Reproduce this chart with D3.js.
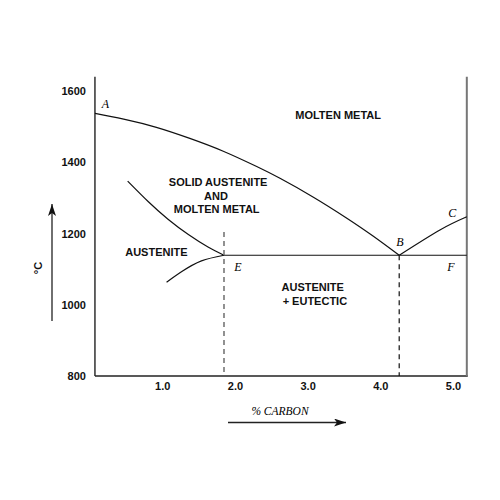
<!DOCTYPE html>
<html>
<head>
<meta charset="utf-8">
<script src="https://cdn.jsdelivr.net/npm/d3@7"></script>
<style>
  body { margin: 0; background: #fff; }
  .lbl { font-family: "Liberation Sans", Arial, sans-serif; font-weight: bold; font-size: 11px; fill: #111; }
  .pt { font-family: "Liberation Serif", "Times New Roman", serif; font-style: italic; font-size: 12px; fill: #000; }
  .tick text { font-family: "Liberation Sans", Arial, sans-serif; font-weight: bold; font-size: 11px; fill: #111; }
</style>
</head>
<body>
<script>
// liquidus A -> B
var abCarbon = [0.075, 0.47, 0.92, 1.38, 1.84, 2.30, 2.62, 3.08, 3.54, 3.90, 4.26];
var abTemp   = [1537, 1521, 1498, 1467, 1431, 1388, 1355, 1302, 1243, 1193, 1139];
// liquidus B -> C
var bcCarbon = [4.26, 4.82, 5.19];
var bcTemp   = [1139, 1210, 1247];
// solidus (upper curve into E)
var solCarbon = [0.525, 0.81, 1.08, 1.36, 1.63, 1.85];
var solTemp   = [1347, 1289, 1240, 1197, 1162, 1139];
// solvus (lower curve into E)
var lowCarbon = [1.06, 1.27, 1.54, 1.85];
var lowTemp   = [1063, 1093, 1123, 1139];
// eutectic line E -> F
var eutCarbon = [1.85, 5.19];
var eutTemp = 1139;
// dashed verticals
var dashE = {c: 1.85, top: 1204};
var dashB = {c: 4.26, top: 1139};

var xTicks = [1, 2, 3, 4, 5];
var yTicks = [800, 1000, 1200, 1400, 1600];

var points = ["A", "B", "C", "E", "F"];
var pointC = [0.22, 4.27, 4.99, 2.04, 4.97];
var pointT = [1563, 1177, 1257, 1107, 1107];

var regions = ["MOLTEN METAL", "SOLID AUSTENITE", "AND", "MOLTEN METAL", "AUSTENITE", "AUSTENITE", "+ EUTECTIC"];
var regionC = [3.42, 1.77, 1.74, 1.75, 0.92, 3.07, 3.10];
var regionT = [1533, 1343, 1306, 1268, 1147, 1050, 1010];

var xMin = 0.075, xMax = 5.19, yMin = 800, yMax = 1640;

var x = d3.scaleLinear().domain([0, 5]).range([89.5, 453]);
var y = d3.scaleLinear().domain([800, 1600]).range([376, 91]);

var svg = d3.select("body").append("svg")
    .attr("width", 500)
    .attr("height", 500);

var defs = svg.append("defs");
defs.append("marker")
    .attr("id", "arr")
    .attr("viewBox", "0 0 12 8")
    .attr("refX", 12).attr("refY", 4)
    .attr("markerWidth", 12).attr("markerHeight", 8)
    .attr("markerUnits", "userSpaceOnUse")
    .attr("orient", "auto")
  .append("path")
    .attr("d", "M0,0 L12,4 L0,8 L3,4 Z")
    .attr("fill", "#111");

// axes (labels only, lines drawn separately)
var xAxis = d3.axisBottom(x).tickValues(xTicks).tickFormat(d3.format(".1f")).tickSize(0).tickPadding(6);
var yAxis = d3.axisLeft(y).tickValues(yTicks).tickFormat(d3.format("d")).tickSize(0).tickPadding(9);

svg.append("g")
    .attr("transform", "translate(0," + y(yMin) + ")")
    .call(xAxis)
    .call(function(g) { g.select(".domain").remove(); });

svg.append("g")
    .attr("transform", "translate(" + x(xMin) + ",0)")
    .call(yAxis)
    .call(function(g) { g.select(".domain").remove(); });

// frame
svg.append("line")
    .attr("x1", x(xMin)).attr("y1", y(yMax))
    .attr("x2", x(xMin)).attr("y2", y(yMin))
    .style("stroke", "#111").style("stroke-width", 1.3);
svg.append("line")
    .attr("x1", x(xMin)).attr("y1", y(yMin))
    .attr("x2", x(xMax) + 1).attr("y2", y(yMin))
    .style("stroke", "#222").style("stroke-width", 1.3);
svg.append("line")
    .attr("x1", x(xMax)).attr("y1", y(yMax))
    .attr("x2", x(xMax)).attr("y2", y(yMin))
    .style("stroke", "#777").style("stroke-width", 2);

function curve(cs, ts) {
  var line = d3.line()
      .x(function(d) { return x(d[0]); })
      .y(function(d) { return y(d[1]); })
      .curve(d3.curveNatural);
  svg.append("path")
      .attr("d", line(d3.zip(cs, ts)))
      .attr("fill", "none")
      .style("stroke", "#111")
      .style("stroke-width", 1.2);
}

curve(abCarbon, abTemp);
curve(bcCarbon, bcTemp);
curve(solCarbon, solTemp);
curve(lowCarbon, lowTemp);

svg.append("line")
    .attr("x1", x(eutCarbon[0])).attr("y1", y(eutTemp))
    .attr("x2", x(eutCarbon[1])).attr("y2", y(eutTemp))
    .style("stroke", "#111").style("stroke-width", 1.2);

svg.append("line")
    .attr("x1", x(dashE.c)).attr("y1", y(dashE.top))
    .attr("x2", x(dashE.c)).attr("y2", y(yMin))
    .style("stroke", "#777").style("stroke-width", 1.6)
    .style("stroke-dasharray", "5,4");

svg.append("line")
    .attr("x1", x(dashB.c)).attr("y1", y(dashB.top))
    .attr("x2", x(dashB.c)).attr("y2", y(yMin))
    .style("stroke", "#111").style("stroke-width", 1.2)
    .style("stroke-dasharray", "5,4");

// point letters
svg.selectAll(".pt")
    .data(points)
    .enter().append("text")
    .attr("class", "pt")
    .attr("x", function(d, i) { return x(pointC[i]); })
    .attr("y", function(d, i) { return y(pointT[i]); })
    .attr("dy", "0.35em")
    .attr("text-anchor", "middle")
    .text(function(d) { return d; });

// region labels
svg.selectAll(".reg")
    .data(regions)
    .enter().append("text")
    .attr("class", "lbl reg")
    .attr("x", function(d, i) { return x(regionC[i]); })
    .attr("y", function(d, i) { return y(regionT[i]); })
    .attr("dy", "0.35em")
    .attr("text-anchor", "middle")
    .text(function(d) { return d; });

// temperature arrow + label
svg.append("line")
    .attr("x1", 52).attr("y1", 321)
    .attr("x2", 52).attr("y2", 204)
    .style("stroke", "#222").style("stroke-width", 1.3)
    .attr("marker-end", "url(#arr)");
svg.append("text")
    .attr("class", "lbl")
    .attr("transform", "translate(38,268) rotate(-90)")
    .attr("dy", "0.35em")
    .attr("text-anchor", "middle")
    .text("°C");

// carbon arrow + label
svg.append("line")
    .attr("x1", 228).attr("y1", 422.5)
    .attr("x2", 346).attr("y2", 422.5)
    .style("stroke", "#222").style("stroke-width", 1.3)
    .attr("marker-end", "url(#arr)");
svg.append("text")
    .attr("class", "pt")
    .attr("x", 280).attr("y", 411)
    .attr("dy", "0.35em")
    .attr("text-anchor", "middle")
    .style("font-size", "11.5px")
    .text("% CARBON");
</script>
</body>
</html>
